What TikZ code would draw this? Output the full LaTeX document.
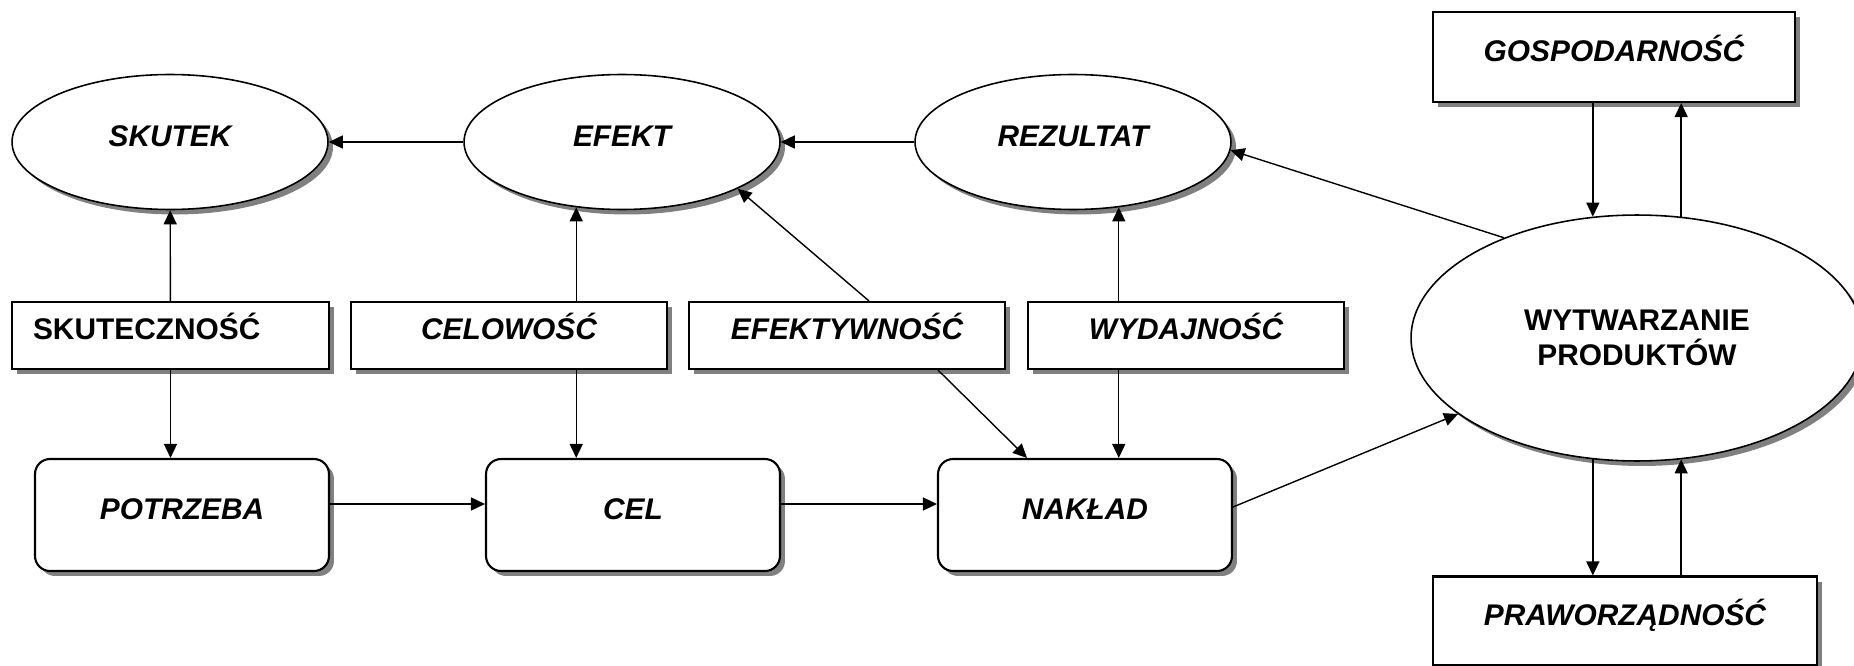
\documentclass[tikz,border=0pt]{standalone}
\usepackage{fontspec}
\setmainfont{Liberation Sans}
\usetikzlibrary{shapes.geometric,arrows.meta,shadows}
\newcommand{\lblfont}{\fontsize{17}{20}\selectfont\bfseries}
\tikzset{
  boxshadow/.style={drop shadow={shadow xshift=0.1cm,shadow yshift=-0.1cm,fill=black!50,opacity=1}},
  oval/.style={ellipse,draw,line width=0.9pt,fill=white,boxshadow,minimum width=6.32cm,minimum height=2.7cm},
  criterion/.style={rectangle,draw,line width=1.2pt,fill=white,boxshadow,minimum width=6.32cm,minimum height=1.34cm},
  stage/.style={rectangle,rounded corners=0.3cm,draw,line width=1.2pt,fill=white,boxshadow,minimum width=5.88cm,minimum height=2.24cm},
}
\begin{document}
\begin{tikzpicture}[x=0.02cm,y=-0.02cm,
    every node/.style={font=\lblfont\itshape,text height=0.44cm,text depth=0.28cm}]
  \useasboundingbox (0,0) rectangle (1854,666);
  \draw
    (170,142) node[oval] (skutek){SKUTEK}
    (622,142) node[oval] (efekt){EFEKT}
    (1073,142) node[oval] (rezultat){REZULTAT}
    (170.5,335.5) node[criterion,font=\lblfont,align=left,text width=5.5cm,inner xsep=0.42cm] (skutecznosc){SKUTECZNOŚĆ}
    (509,335.5) node[criterion] (celowosc){CELOWOŚĆ}
    (847,335.5) node[criterion] (efektywnosc){EFEKTYWNOŚĆ}
    (1186,335.5) node[criterion] (wydajnosc){WYDAJNOŚĆ}
    (182,515) node[stage] (potrzeba){POTRZEBA}
    (633,515) node[stage] (cel){CEL}
    (1085,515) node[stage] (naklad){NAKŁAD}
    (1637,338) node[oval,font=\lblfont,align=center,text height=,text depth=,minimum width=9.04cm,minimum height=4.92cm] (wytwarzanie){WYTWARZANIE\\PRODUKTÓW}
    (1614,57) node[criterion,minimum width=7.24cm,minimum height=1.8cm] (gospodarnosc){GOSPODARNOŚĆ}
    (1625,621) node[criterion,minimum width=7.68cm,minimum height=1.78cm] (prawo){PRAWORZĄDNOŚĆ};
  \begin{scope}[-{Triangle[length=0.28cm,width=0.26cm]},line width=0.8pt]
    \draw (efekt) to (skutek);
    \draw (rezultat) to (efekt);
    \draw (skutecznosc) to (skutek);
    \draw (skutecznosc.south) to (skutecznosc.south |- potrzeba.north);
    \draw (efekt.-125 |- celowosc.north) to (efekt.-125);
    \draw (celowosc.south -| efekt.-125) to (efekt.-125 |- cel.north);
    \draw ([xshift=0.44cm]efektywnosc.north) to (efekt.-22);
    \draw ([xshift=1.82cm]efektywnosc.south) to ([xshift=-1.16cm]naklad.north);
    \draw (rezultat.-55 |- wydajnosc.north) to (rezultat.-55);
    \draw (wydajnosc.south -| rezultat.-55) to (rezultat.-55 |- naklad.north);
    \draw ([yshift=0.22cm]potrzeba.east) to ([yshift=0.22cm]cel.west);
    \draw ([yshift=0.22cm]cel.east) to ([yshift=0.22cm]naklad.west);
    \draw ([yshift=0.16cm]naklad.east) to (wytwarzanie.-157);
    \draw (wytwarzanie.143) to (rezultat.-3);
    \draw (gospodarnosc.south -| wytwarzanie.110) to (wytwarzanie.110);
    \draw (wytwarzanie.70) to (wytwarzanie.70 |- gospodarnosc.south);
    \draw (wytwarzanie.-110) to (wytwarzanie.-110 |- prawo.north);
    \draw (wytwarzanie.-70 |- prawo.north) to (wytwarzanie.-70);
  \end{scope}
\end{tikzpicture}
\end{document}
